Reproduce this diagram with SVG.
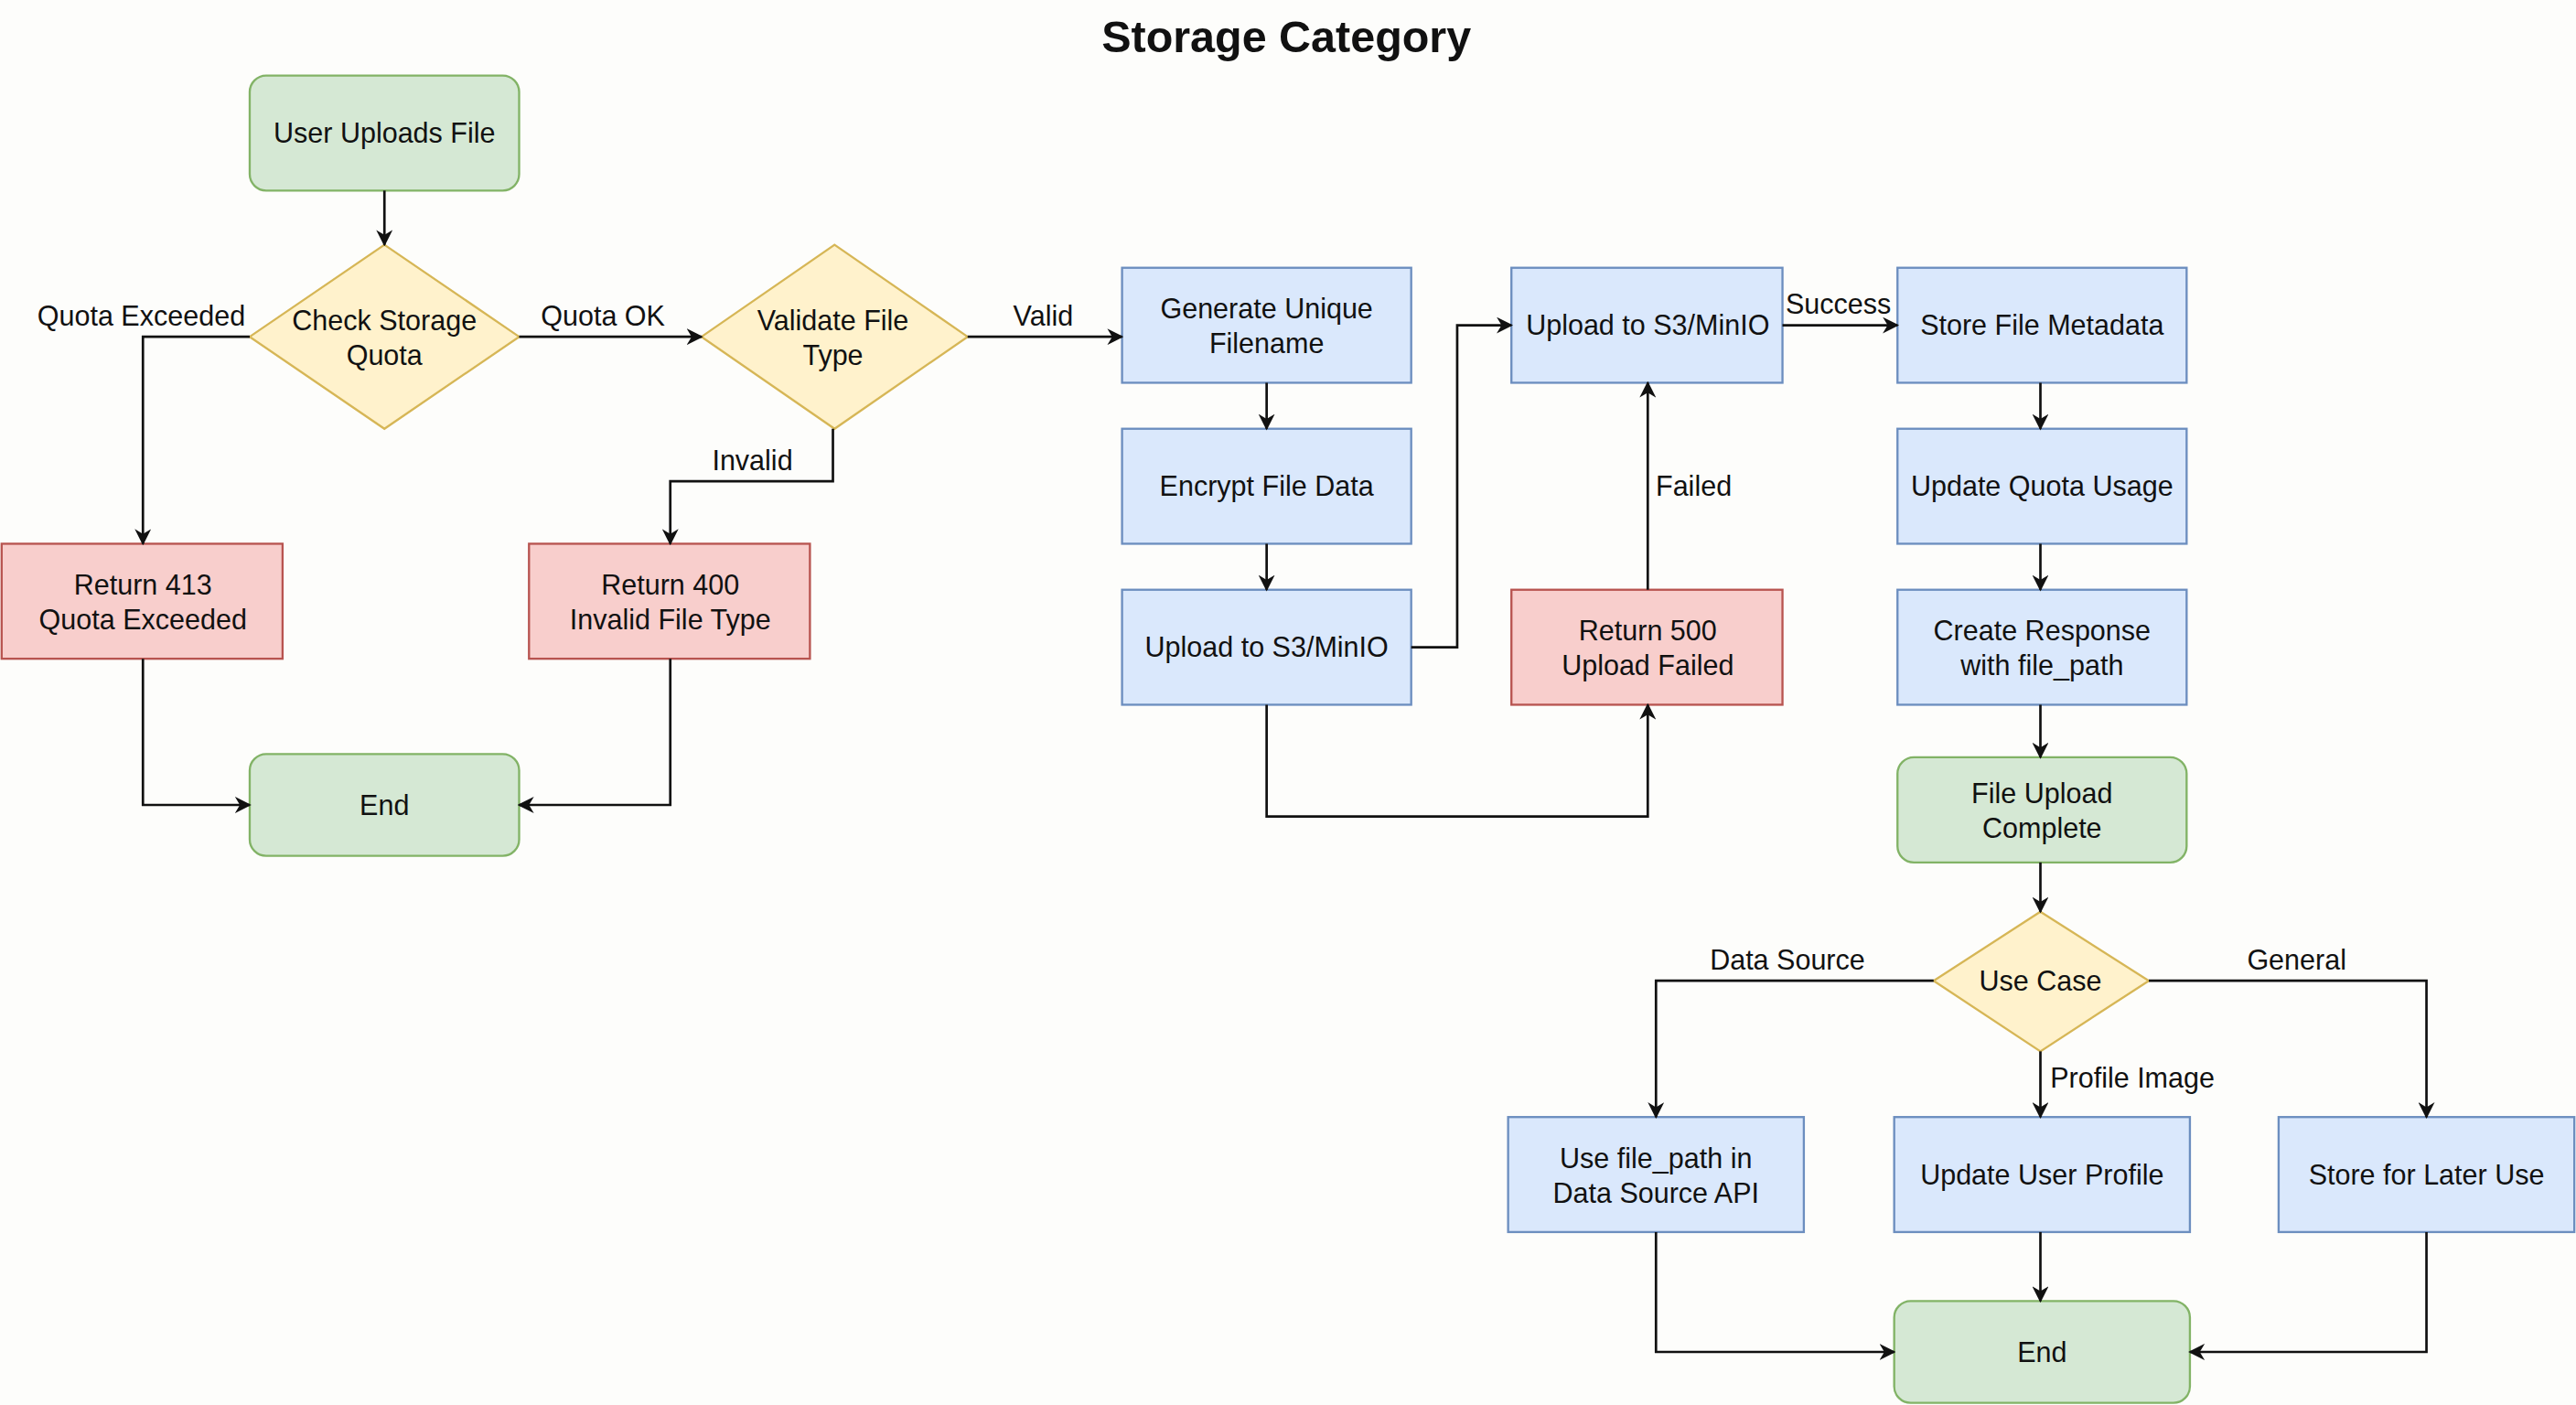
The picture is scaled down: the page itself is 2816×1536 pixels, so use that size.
<svg xmlns="http://www.w3.org/2000/svg" width="2816" height="1536" viewBox="0 0 2816 1536">
<defs>
<marker id="ah" markerWidth="10" markerHeight="10" refX="9" refY="5" orient="auto" markerUnits="userSpaceOnUse"><path d="M0,0 L10,5 L0,10 L3,5 Z" fill="#111"/></marker>
<style>
text{font-family:"Liberation Sans",Arial,sans-serif;font-size:17px;fill:#111;text-anchor:middle}
.g{fill:#d5e8d4;stroke:#82b366;stroke-width:1.3}
.b{fill:#dae8fc;stroke:#6c8ebf;stroke-width:1.3}
.r{fill:#f8cecc;stroke:#b85450;stroke-width:1.3}
.y{fill:#fff2cc;stroke:#d6b656;stroke-width:1.3}
.e{fill:none;stroke:#111;stroke-width:1.5;marker-end:url(#ah)}
</style>
</defs>
<rect width="2816" height="1536" fill="#fdfdfb"/>
<g transform="scale(1.7959)">
<text x="783" y="32" style="font-size:27px;font-weight:bold">Storage Category</text>
<g id="n_upload"><rect class="g" x="152" y="46" width="164" height="70" rx="10"/><text x="234" y="87">User Uploads File</text></g>
<g id="n_check"><polygon class="y" points="234,149 316,205 234,261 152,205"/><text x="234" y="201">Check Storage</text><text x="234" y="222">Quota</text></g>
<g id="n_validate"><polygon class="y" points="508,149 589,205 508,261 427,205"/><text x="507" y="201">Validate File</text><text x="507" y="222">Type</text></g>
<g id="n_gen"><rect class="b" x="683" y="163" width="176" height="70"/><text x="771" y="194">Generate Unique</text><text x="771" y="215">Filename</text></g>
<g id="n_enc"><rect class="b" x="683" y="261" width="176" height="70"/><text x="771" y="302">Encrypt File Data</text></g>
<g id="n_up1"><rect class="b" x="683" y="359" width="176" height="70"/><text x="771" y="400">Upload to S3/MinIO</text></g>
<g id="n_up2"><rect class="b" x="920" y="163" width="165" height="70"/><text x="1003" y="204">Upload to S3/MinIO</text></g>
<g id="n_500"><rect class="r" x="920" y="359" width="165" height="70"/><text x="1003" y="390">Return 500</text><text x="1003" y="411">Upload Failed</text></g>
<g id="n_meta"><rect class="b" x="1155" y="163" width="176" height="70"/><text x="1243" y="204">Store File Metadata</text></g>
<g id="n_quota"><rect class="b" x="1155" y="261" width="176" height="70"/><text x="1243" y="302">Update Quota Usage</text></g>
<g id="n_resp"><rect class="b" x="1155" y="359" width="176" height="70"/><text x="1243" y="390">Create Response</text><text x="1243" y="411">with file_path</text></g>
<g id="n_done"><rect class="g" x="1155" y="461" width="176" height="64" rx="10"/><text x="1243" y="489">File Upload</text><text x="1243" y="510">Complete</text></g>
<g id="n_case"><polygon class="y" points="1242,555 1308,597 1242,640 1177,597"/><text x="1242" y="603">Use Case</text></g>
<g id="n_ds"><rect class="b" x="918" y="680" width="180" height="70"/><text x="1008" y="711">Use file_path in</text><text x="1008" y="732">Data Source API</text></g>
<g id="n_prof"><rect class="b" x="1153" y="680" width="180" height="70"/><text x="1243" y="721">Update User Profile</text></g>
<g id="n_later"><rect class="b" x="1387" y="680" width="180" height="70"/><text x="1477" y="721">Store for Later Use</text></g>
<g id="n_end2"><rect class="g" x="1153" y="792" width="180" height="62" rx="10"/><text x="1243" y="829">End</text></g>
<g id="n_413"><rect class="r" x="1" y="331" width="171" height="70"/><text x="87" y="362">Return 413</text><text x="87" y="383">Quota Exceeded</text></g>
<g id="n_400"><rect class="r" x="322" y="331" width="171" height="70"/><text x="408" y="362">Return 400</text><text x="408" y="383">Invalid File Type</text></g>
<g id="n_end1"><rect class="g" x="152" y="459" width="164" height="62" rx="10"/><text x="234" y="496">End</text></g>
<g id="edges">
<path class="e" d="M234,116 V149"/>
<path class="e" d="M316,205 H427"/>
<path class="e" d="M152,205 H87 V331"/>
<path class="e" d="M589,205 H683"/>
<path class="e" d="M507,261 V293 H408 V331"/>
<path class="e" d="M87,401 V490 H152"/>
<path class="e" d="M408,401 V490 H316"/>
<path class="e" d="M771,233 V261"/>
<path class="e" d="M771,331 V359"/>
<path class="e" d="M859,394 H887 V198 H920"/>
<path class="e" d="M771,429 V497 H1003 V429"/>
<path class="e" d="M1003,359 V233"/>
<path class="e" d="M1085,198 H1155"/>
<path class="e" d="M1242,233 V261"/>
<path class="e" d="M1242,331 V359"/>
<path class="e" d="M1242,429 V461"/>
<path class="e" d="M1242,525 V555"/>
<path class="e" d="M1177,597 H1008 V680"/>
<path class="e" d="M1242,640 V680"/>
<path class="e" d="M1308,597 H1477 V680"/>
<path class="e" d="M1008,750 V823 H1153"/>
<path class="e" d="M1242,750 V792"/>
<path class="e" d="M1477,750 V823 H1333"/>
<text x="367" y="198">Quota OK</text>
<text x="86" y="198">Quota Exceeded</text>
<text x="635" y="198">Valid</text>
<text x="458" y="286">Invalid</text>
<text x="1031" y="302">Failed</text>
<text x="1119" y="191">Success</text>
<text x="1088" y="590">Data Source</text>
<text x="1298" y="662">Profile Image</text>
<text x="1398" y="590">General</text>
</g>
</g>
</svg>
